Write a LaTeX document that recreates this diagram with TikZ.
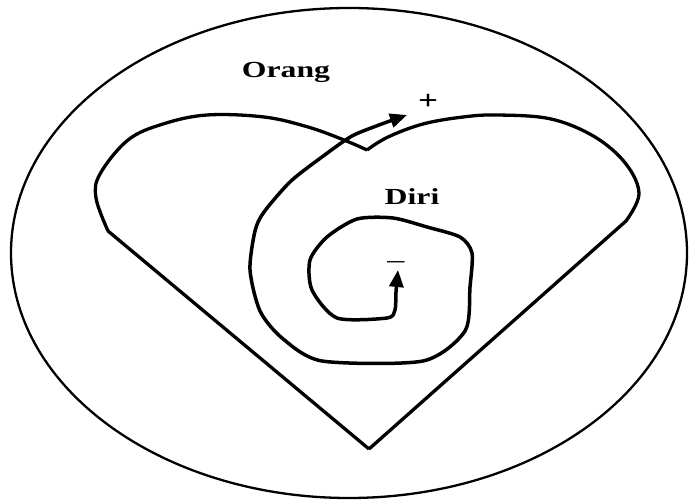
\documentclass[tikz,border=0pt]{standalone}
\usepackage{fontspec}
\setmainfont{Liberation Serif}
\usetikzlibrary{arrows.meta}
\tikzset{
  outerring/.style={line width=2.3pt, black},
  heartline/.style={line width=3.3pt, black, line join=round},
  spiralline/.style={
    line width=3.5pt, black, line join=round,
    {Triangle[length=17pt,width=14pt]}-{Triangle[length=17pt,width=14pt]}
  },
  wordlabel/.style={font=\fontsize{23}{27}\selectfont\bfseries, inner sep=0pt},
  signlabel/.style={font=\fontsize{27}{31}\selectfont\bfseries, inner sep=0pt},
}

\begin{document}
\begin{tikzpicture}[x=1pt, y=-1pt]
\useasboundingbox (0,0) rectangle (690,502);

%% ── Outer ellipse ────────────────────────────────────────────────────────
\draw[outerring] (349,253) ellipse [x radius=338pt, y radius=245pt];

%% ── Heart ────────────────────────────────────────────────────────────────
\draw[heartline] (369,449) -- (108,231)
  plot[smooth, tension=0.6] coordinates {(108,231) (96,198) (100,174) (128,140)
    (163,124) (207,115) (264,117) (308,127) (344,140) (367,150)}
  plot[smooth, tension=0.6] coordinates {(367,150) (388,137) (423,124) (463,117)
    (498,115) (551,119) (595,137) (626,164) (639,194) (626,221)}
  -- (369,449);

%% ── Spiral, from the centre out ──────────────────────────────────────────
\draw[spiralline] plot[smooth, tension=0.45] coordinates {
  (398,270) (396,292) (395,310) (387,318) (337,318) (312,290) (310,260)
  (327,237) (357,219) (393,218) (427,227) (460,237) (472,253) (470,287)
  (465,331) (423,361) (322,361) (282,338) (260,311) (250,270) (255,231)
  (264,212) (291,181) (326,154) (352,136) (379,125) (407,115)};

%% ── Labels ───────────────────────────────────────────────────────────────
\node[wordlabel] (orang) at (286,72) {\scalebox{1.38}[1]{Orang}};
\node[wordlabel] (diri) at (412,197) {\scalebox{1.38}[1]{Diri}};
\node[signlabel] (plus) at (428,102) {\scalebox{1.3}[1]{+}};
\node[signlabel] (minus) at (396,265) {\scalebox{1.4}[0.7]{−}};

\end{tikzpicture}
\end{document}
